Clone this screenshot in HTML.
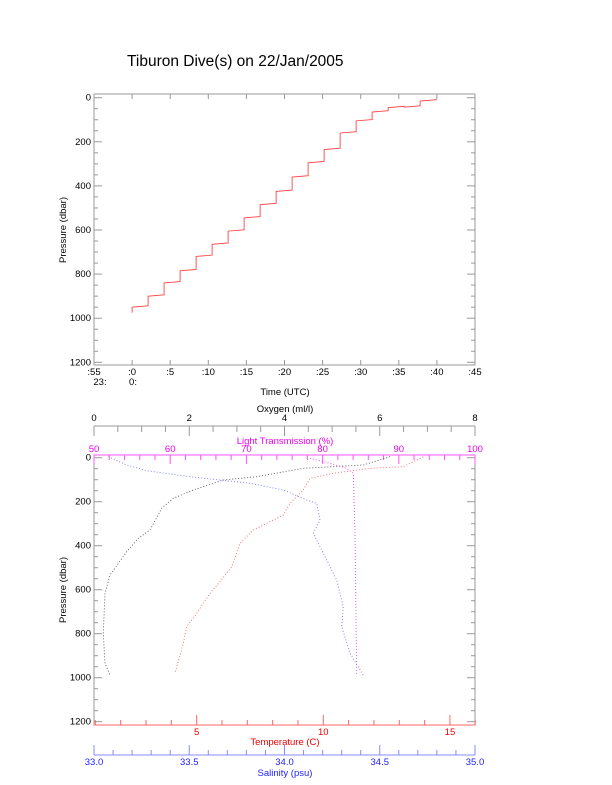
<!DOCTYPE html>
<html><head><meta charset="utf-8"><style>
html,body{margin:0;padding:0;background:#fff}
svg{display:block}
text{font-family:"Liberation Sans",sans-serif;font-size:9.5px}
</style></head><body>
<svg id="s" width="612" height="785" xmlns="http://www.w3.org/2000/svg">
<text x="127" y="66" style="font-size:15.5px">Tiburon Dive(s) on 22/Jan/2005</text>
</svg>
<script>
const s=document.getElementById('s');
function el(t,a,txt){const e=document.createElementNS('http://www.w3.org/2000/svg',t);for(const k in a)e.setAttribute(k,a[k]);if(txt!==undefined)e.textContent=txt;s.appendChild(e);return e;}
function line(x1,y1,x2,y2,c){el('line',{x1,y1,x2,y2,stroke:c||'#999','stroke-width':1});}
function txt(x,y,t,anchor,c,extra){const a={x,y,'text-anchor':anchor||'middle',fill:c||'#000'};if(extra)Object.assign(a,extra);el('text',a,t);}
const L=94,R=475;
// ---- top chart
const T0=94,T1=365;
el('rect',{x:L,y:T0,width:R-L,height:T1-T0,fill:'none',stroke:'#999'});
const py=p=>97.7+p*0.2205;
for(let p=0;p<=1200;p+=50){const y=py(p);const big=p%200==0;line(L,y,L+(big?8:4),y);line(R,y,R-(big?8:4),y);if(big)txt(L-3,y+3,String(p),'end');}
const tx=t=>132.1+t*7.62;
const tl=[':55',':0',':5',':10',':15',':20',':25',':30',':35',':40',':45'];
for(let i=0;i<=10;i++){const x=tx(-5+i*5);line(x,T1,x,T1-5);line(x,T0,x,T0+5);txt(x,375,tl[i]);}
txt(100,385,'23:');txt(133,385,'0:');
txt(285,395,'Time (UTC)');
txt(0,0,'Pressure (dbar)','middle','#000',{transform:'translate(66,230) rotate(-90)'});
// steps
const lv=[950,900,840,785,720,665,605,545,485,425,360,295,235,160,105,65,45,43,15,5];
let d='M'+tx(0)+','+py(975)+' L'+tx(0)+','+py(950);
for(let i=0;i<lv.length-1;i++){const t1=(i+1)*2.1;d+=' L'+tx(t1)+','+py(lv[i]-6)+' L'+tx(t1)+','+py(lv[i+1]);}
el('path',{d,fill:'none',stroke:'#f44','stroke-width':0.9});
// ---- bottom chart
const B0=455,B1=725;
el('rect',{x:L,y:B0,width:R-L,height:B1-B0,fill:'none',stroke:'#999'});
const by=p=>457.7+p*0.22;
for(let p=0;p<=1200;p+=50){const y=by(p);const big=p%200==0;line(L,y,L+(big?8:4),y);line(R,y,R-(big?8:4),y);if(big)txt(L-3,y+3,String(p),'end');}
txt(0,0,'Pressure (dbar)','middle','#000',{transform:'translate(66,590) rotate(-90)'});
// Oxygen axis
line(L,426,R,426);
for(let i=0;i<=16;i++){const x=L+i*(R-L)/16;line(x,426,x,i%4==0?436:432);}
for(let i=0;i<=4;i++)txt(L+i*(R-L)/4,421,String(i*2));
txt(285,412,'Oxygen (ml/l)');
// LT axis
const M='#f5f';
line(L,B0,R,B0,M);
for(let i=0;i<=25;i++){const x=L+i*(R-L)/25;line(x,B0,x,B0+(i%5==0?9:5),M);}
for(let i=0;i<=5;i++)txt(L+i*(R-L)/5,452,String(50+i*10),'middle','#e0e');
txt(285,444,'Light Transmission (%)','middle','#e0e');
// Temperature axis
const Rd='#f66',tt=t=>70+t*25.33;
line(L,B1,R,B1,Rd);
for(let t=1;t<=16;t++){const x=tt(t);line(x,B1,x,B1-(t%5==0?10:5),Rd);}
[5,10,15].forEach(t=>txt(tt(t),735,String(t),'middle','#e00'));
txt(285,745,'Temperature (C)','middle','#e00');
// Salinity axis
const Bl='#88f';
line(L,755,R,755,Bl);
for(let i=0;i<=20;i++){const x=L+i*(R-L)/20;line(x,755,x,i%5==0?745:750,Bl);}
for(let i=0;i<=4;i++)txt(L+i*(R-L)/4,765,(33+i*0.5).toFixed(1),'middle','#22f');
txt(285,776,'Salinity (psu)','middle','#22f');
// curves (zoom coords)
function curve(pts,c){const p=pts.map(q=>(50+q[0]/3).toFixed(1)+','+(400+q[1]/3).toFixed(1)).join(' ');el('polyline',{points:p,fill:'none',stroke:c,'stroke-width':0.9,'stroke-dasharray':'1 2'});}
curve([[1020,170],[940,195],[760,205],[620,230],[520,240],[430,270],[370,295],[335,325],[300,390],[265,415],[230,455],[180,525],[165,580],[160,700],[165,790],[180,825]],'#555');
curve([[1120,170],[1060,200],[960,205],[850,220],[780,235],[760,270],[720,310],[700,345],[610,390],[570,430],[545,500],[510,545],[480,580],[440,640],[410,680],[400,730],[375,820]],'#f66');
curve([[175,170],[230,195],[290,212],[420,230],[600,250],[700,270],[770,300],[800,310],[810,360],[790,400],[810,440],[830,480],[860,540],[880,620],[875,680],[900,760],[940,825]],'#77f');
curve([[780,175],[840,190],[890,205],[910,220],[915,400],[920,825]],'#e4e');
</script>
</body></html>
